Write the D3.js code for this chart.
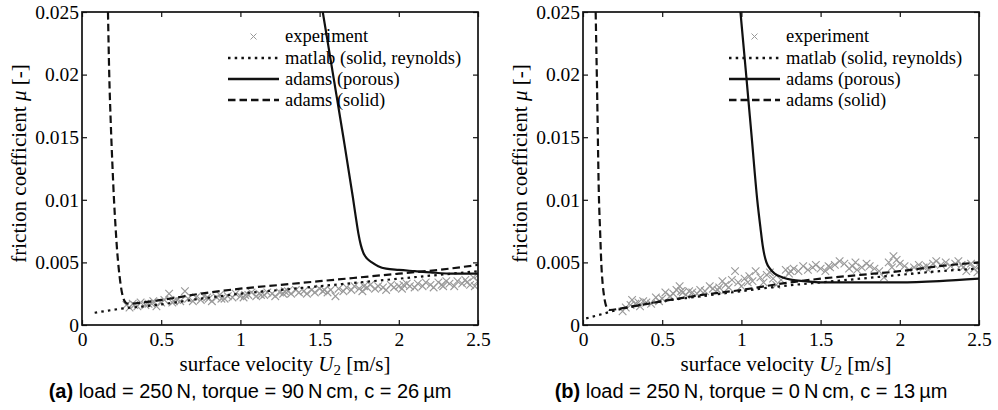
<!DOCTYPE html>
<html lang="en">
<head>
  <meta charset="UTF-8">
  <title>Friction coefficient</title>
  <script src="https://d3js.org/d3.v7.min.js"></script>
  <style>
    body { margin: 0; background: #fff; }
    svg text { font-family: "Liberation Serif", "Times New Roman", serif; fill: #000; }
    .caption { font-family: "Liberation Sans", Arial, sans-serif; }
  </style>
</head>
<body>
  <svg id="chart" width="998" height="410"></svg>
  <script>
    // axis ticks
    const xTicks = [0, 0.5, 1, 1.5, 2, 2.5];
    const xTickLabels = ["0", "0.5", "1", "1.5", "2", "2.5"];
    const yTicks = [0, 0.005, 0.01, 0.015, 0.02, 0.025];
    const yTickLabels = ["0", "0.005", "0.01", "0.015", "0.02", "0.025"];
    const legendLabels = ["experiment", "matlab (solid, reynolds)", "adams (porous)", "adams (solid)"];

    // (a) load 250 N, torque 90 N cm, c 26 um
    const expU_a = [0.28, 0.30, 0.32, 0.35, 0.37, 0.40, 0.42, 0.45, 0.47, 0.50, 0.52, 0.55, 0.57, 0.60, 0.62, 0.65, 0.67, 0.70, 0.72, 0.75,
      0.77, 0.80, 0.82, 0.85, 0.87, 0.90, 0.92, 0.95, 0.97, 1.00, 1.02, 1.05, 1.07, 1.10, 1.12, 1.15, 1.17, 1.20, 1.22, 1.25,
      1.27, 1.30, 1.32, 1.35, 1.37, 1.40, 1.42, 1.45, 1.47, 1.50, 1.52, 1.55, 1.57, 1.60, 1.62, 1.65, 1.67, 1.70, 1.72, 1.75,
      1.77, 1.80, 1.82, 1.85, 1.87, 1.90, 1.92, 1.95, 1.97, 2.00, 2.02, 2.05, 2.07, 2.10, 2.12, 2.15, 2.17, 2.20, 2.22, 2.25,
      2.27, 2.30, 2.32, 2.35, 2.37, 2.40, 2.42, 2.45, 2.47, 2.50, 2.50, 2.48, 0.33, 0.44, 0.58, 0.79, 1.03, 1.28, 1.53, 1.78,
      2.03, 2.28, 2.43, 1.13, 0.88];
    const expMu_a = [0.0016, 0.0014, 0.0017, 0.0015, 0.0018, 0.0016, 0.0017, 0.0019, 0.0015, 0.0018, 0.0020, 0.0025, 0.0018, 0.0020, 0.0019, 0.0027, 0.0021, 0.0019, 0.0022, 0.0020,
      0.0023, 0.0021, 0.0019, 0.0022, 0.0024, 0.0021, 0.0023, 0.0022, 0.0025, 0.0023, 0.0022, 0.0024, 0.0026, 0.0023, 0.0025, 0.0024, 0.0026, 0.0025, 0.0023, 0.0026,
      0.0025, 0.0027, 0.0025, 0.0028, 0.0026, 0.0027, 0.0025, 0.0028, 0.0026, 0.0029, 0.0027, 0.0026, 0.0028, 0.0023, 0.0029, 0.0027, 0.0030, 0.0028, 0.0031, 0.0029,
      0.0027, 0.0030, 0.0032, 0.0029, 0.0031, 0.0030, 0.0028, 0.0032, 0.0030, 0.0031, 0.0029, 0.0033, 0.0031, 0.0030, 0.0033, 0.0031, 0.0034, 0.0032, 0.0030, 0.0034,
      0.0032, 0.0035, 0.0033, 0.0031, 0.0035, 0.0033, 0.0036, 0.0032, 0.0038, 0.0035, 0.0040, 0.0031, 0.0016, 0.0017, 0.0019, 0.0022, 0.0024, 0.0027, 0.0028, 0.0031,
      0.0032, 0.0031, 0.0034, 0.0024, 0.0021];
    const matlabU_a = [0.08, 0.15, 0.2, 0.3, 0.4, 0.5, 0.75, 1.0, 1.25, 1.5, 1.75, 2.0, 2.25, 2.5];
    const matlabMu_a = [0.00098, 0.00112, 0.00122, 0.00138, 0.0015, 0.00165, 0.0021, 0.0025, 0.0028, 0.0031, 0.0034, 0.0037, 0.0040, 0.0043];
    const porousU_a = [1.52, 1.585, 1.65, 1.71, 1.73, 1.745, 1.76, 1.775, 1.80, 1.83, 1.87, 1.92, 2.0, 2.1, 2.2, 2.35, 2.5];
    const porousMu_a = [0.025, 0.02, 0.015, 0.0102, 0.0085, 0.0073, 0.0064, 0.0058, 0.0053, 0.0050, 0.0047, 0.0045, 0.0044, 0.0043, 0.0042, 0.0041, 0.0041];
    const solidU_a = [0.164, 0.172, 0.182, 0.193, 0.202, 0.212, 0.222, 0.232, 0.242, 0.252, 0.262, 0.275, 0.29, 0.35, 0.5, 0.75, 1.0, 1.25, 1.5, 1.75, 2.0, 2.25, 2.5];
    const solidMu_a = [0.025, 0.02, 0.016, 0.0125, 0.010, 0.0078, 0.0059, 0.0045, 0.0034, 0.0026, 0.0021, 0.0018, 0.0017, 0.00175, 0.0020, 0.0025, 0.0029, 0.0032, 0.0035, 0.0038, 0.0041, 0.0044, 0.0048];

    // (b) load 250 N, torque 0 N cm, c 13 um
    const expU_b = [0.25, 0.27, 0.30, 0.31, 0.33, 0.36, 0.38, 0.40, 0.43, 0.46, 0.48, 0.50, 0.52, 0.55, 0.57, 0.59, 0.61, 0.63, 0.65, 0.67,
      0.69, 0.72, 0.74, 0.77, 0.80, 0.82, 0.85, 0.88, 0.90, 0.92, 0.94, 0.96, 0.98, 1.00, 1.02, 1.05, 1.07, 1.09, 1.12, 1.14,
      1.16, 1.18, 1.20, 1.22, 1.25, 1.28, 1.30, 1.33, 1.36, 1.39, 1.42, 1.45, 1.47, 1.50, 1.53, 1.56, 1.59, 1.62, 1.65, 1.68,
      1.70, 1.73, 1.76, 1.79, 1.81, 1.84, 1.87, 1.90, 1.93, 1.96, 1.98, 2.00, 2.03, 2.06, 2.09, 2.12, 2.15, 2.18, 2.21, 2.23,
      2.26, 2.29, 2.32, 2.35, 2.37, 2.40, 2.42, 2.45, 2.47, 2.49, 2.50, 0.35, 0.62, 0.86, 1.04, 1.31, 1.55, 1.72, 1.95, 2.17, 2.39];
    const expMu_b = [0.0011, 0.0014, 0.0016, 0.0020, 0.0017, 0.0015, 0.0019, 0.0018, 0.0017, 0.0022, 0.0019, 0.0021, 0.0026, 0.0023, 0.0025, 0.0028, 0.0031, 0.0026, 0.0024, 0.0027,
      0.0026, 0.0025, 0.0028, 0.0027, 0.0031, 0.0029, 0.0028, 0.0035, 0.0032, 0.0030, 0.0036, 0.0043, 0.0034, 0.0031, 0.0037, 0.0039, 0.0035, 0.0043, 0.0038, 0.0034,
      0.0040, 0.0042, 0.0037, 0.0032, 0.0036, 0.0044, 0.0041, 0.0045, 0.0043, 0.0047, 0.0044, 0.0046, 0.0048, 0.0045, 0.0043, 0.0046, 0.0048, 0.0051, 0.0049, 0.0045,
      0.0047, 0.0044, 0.0046, 0.0049, 0.0047, 0.0045, 0.0043, 0.0038, 0.0050, 0.0055, 0.0052, 0.0049, 0.0047, 0.0044, 0.0046, 0.0048, 0.0046, 0.0044, 0.0049, 0.0051,
      0.0048, 0.0050, 0.0047, 0.0049, 0.0051, 0.0046, 0.0043, 0.0049, 0.0045, 0.0042, 0.0047, 0.0018, 0.0027, 0.0030, 0.0034, 0.0043, 0.0047, 0.0050, 0.0046, 0.0047, 0.0048];
    const matlabU_b = [0.02, 0.1, 0.2, 0.3, 0.5, 0.75, 1.0, 1.25, 1.5, 1.75, 2.0, 2.25, 2.5];
    const matlabMu_b = [0.00053, 0.0008, 0.00115, 0.00145, 0.0019, 0.0023, 0.0027, 0.0031, 0.0034, 0.0037, 0.0040, 0.0043, 0.0045];
    const porousU_b = [0.994, 1.03, 1.065, 1.10, 1.12, 1.135, 1.145, 1.158, 1.18, 1.21, 1.26, 1.32, 1.4, 1.5, 1.75, 2.0, 2.25, 2.5];
    const porousMu_b = [0.025, 0.020, 0.015, 0.010, 0.0078, 0.0063, 0.0056, 0.0050, 0.0045, 0.0041, 0.0038, 0.0036, 0.0035, 0.0034, 0.0034, 0.0034, 0.0035, 0.0037];
    const solidU_b = [0.080, 0.090, 0.100, 0.108, 0.116, 0.124, 0.132, 0.142, 0.155, 0.17, 0.25, 0.5, 0.75, 1.0, 1.25, 1.5, 1.75, 2.0, 2.25, 2.5];
    const solidMu_b = [0.025, 0.018, 0.0105, 0.0075, 0.0048, 0.0033, 0.0024, 0.0017, 0.0013, 0.0012, 0.00135, 0.0019, 0.0024, 0.0028, 0.0033, 0.0037, 0.0040, 0.0043, 0.0047, 0.0050];

    const panels = [
      { id: "a", left: 82, right: 478, capX: 250, tag: "(a)", text: " load = 250\u2009N, torque = 90\u2009N\u2009cm, c = 26\u2009\u00b5m",
        exp: [expU_a, expMu_a], matlab: [matlabU_a, matlabMu_a], porous: [porousU_a, porousMu_a], solid: [solidU_a, solidMu_a] },
      { id: "b", left: 583, right: 979, capX: 751, tag: "(b)", text: " load = 250\u2009N, torque = 0\u2009N\u2009cm, c = 13\u2009\u00b5m",
        exp: [expU_b, expMu_b], matlab: [matlabU_b, matlabMu_b], porous: [porousU_b, porousMu_b], solid: [solidU_b, solidMu_b] }
    ];

    const plotTop = 12, plotBottom = 325;
    const svg = d3.select("#chart");
    const styles = {
      matlab: { dash: "2.5,4.2" },
      porous: { dash: null },
      solid: { dash: "7.5,4" }
    };

    function cross(g, x, y, r, color, w) {
      g.append("path")
        .attr("d", `M${x - r},${y - r}L${x + r},${y + r}M${x - r},${y + r}L${x + r},${y - r}`)
        .attr("stroke", color).attr("stroke-width", w).attr("fill", "none");
    }

    panels.forEach(p => {
      const x = d3.scaleLinear().domain([0, 2.5]).range([p.left, p.right]);
      const y = d3.scaleLinear().domain([0, 0.025]).range([plotBottom, plotTop]);
      const g = svg.append("g");

      g.append("clipPath").attr("id", "clip-" + p.id)
        .append("rect").attr("x", p.left).attr("y", plotTop).attr("width", p.right - p.left).attr("height", plotBottom - plotTop);

      const plot = g.append("g").attr("clip-path", `url(#clip-${p.id})`);

      // experiment crosses
      const ex = p.exp[0].map((u, i) => [u, p.exp[1][i]]);
      ex.forEach(d => cross(plot, x(d[0]), y(d[1]), 3.8, "#999", 1.1));

      const line = d3.line().x(d => x(d[0])).y(d => y(d[1])).curve(d3.curveMonotoneX);
      ["matlab", "solid", "porous"].forEach(k => {
        const pts = p[k][0].map((u, i) => [u, p[k][1][i]]);
        plot.append("path").datum(pts)
          .attr("d", line)
          .attr("fill", "none").attr("stroke", "#111").attr("stroke-width", 2.2)
          .attr("stroke-dasharray", styles[k].dash);
      });

      // axes box with inward ticks on all sides
      const tl = 5;
      g.append("g").attr("transform", `translate(0,${plotBottom})`)
        .call(d3.axisBottom(x).tickValues(xTicks).tickSizeInner(-tl).tickSizeOuter(0).tickPadding(7).tickFormat((d, i) => xTickLabels[i]))
        .call(a => a.select(".domain").remove());
      g.append("g").attr("transform", `translate(0,${plotTop})`)
        .call(d3.axisTop(x).tickValues(xTicks).tickSizeInner(-tl).tickSizeOuter(0).tickFormat(""))
        .call(a => a.select(".domain").remove());
      g.append("g").attr("transform", `translate(${p.left},0)`)
        .call(d3.axisLeft(y).tickValues(yTicks).tickSizeInner(-tl).tickSizeOuter(0).tickPadding(3).tickFormat((d, i) => yTickLabels[i]))
        .call(a => a.select(".domain").remove());
      g.append("g").attr("transform", `translate(${p.right},0)`)
        .call(d3.axisRight(y).tickValues(yTicks).tickSizeInner(-tl).tickSizeOuter(0).tickFormat(""))
        .call(a => a.select(".domain").remove());
      g.selectAll(".tick line").attr("stroke", "#111").attr("stroke-width", 1.2);
      g.selectAll(".tick text").style("font-family", '"Liberation Serif", serif').style("font-size", "19.5px").attr("fill", "#111");

      g.append("rect").attr("x", p.left).attr("y", plotTop).attr("width", p.right - p.left).attr("height", plotBottom - plotTop)
        .attr("fill", "none").attr("stroke", "#111").attr("stroke-width", 1.7);

      // axis titles
      const xt = g.append("text").attr("x", (p.left + p.right) / 2 + 5).attr("y", 371)
        .attr("text-anchor", "middle").style("font-size", "21px");
      xt.append("tspan").text("surface velocity ");
      xt.append("tspan").style("font-style", "italic").text("U");
      xt.append("tspan").attr("dy", 4).style("font-size", "15px").text("2");
      xt.append("tspan").attr("dy", -4).text(" [m/s]");

      const yt = g.append("text").attr("transform", `translate(${p.left - 56},${(plotTop + plotBottom) / 2 - 5}) rotate(-90)`)
        .attr("text-anchor", "middle").style("font-size", "21px");
      yt.append("tspan").text("friction coefficient ");
      yt.append("tspan").style("font-style", "italic").text("\u03bc");
      yt.append("tspan").text(" [-]");

      // legend
      const lx0 = p.left + 146, lx1 = p.left + 197, tx = p.left + 203;
      const rows = [36.5, 58, 79, 100];
      cross(g, (lx0 + lx1) / 2, rows[0], 3, "#999", 1);
      ["matlab", "porous", "solid"].forEach((k, i) => {
        g.append("line").attr("x1", lx0).attr("x2", lx1).attr("y1", rows[i + 1]).attr("y2", rows[i + 1])
          .attr("stroke", "#111").attr("stroke-width", 2.4).attr("stroke-dasharray", styles[k].dash);
      });
      legendLabels.forEach((t, i) => {
        g.append("text").attr("x", tx).attr("y", rows[i]).attr("dy", "0.3em")
          .style("font-size", "18.5px").text(t);
      });

      // caption
      const cap = g.append("text").attr("class", "caption").attr("x", p.capX).attr("y", 398)
        .attr("text-anchor", "middle").style("font-size", "20px");
      cap.append("tspan").style("font-weight", "bold").text(p.tag);
      cap.append("tspan").text(p.text);
    });
  </script>
</body>
</html>
